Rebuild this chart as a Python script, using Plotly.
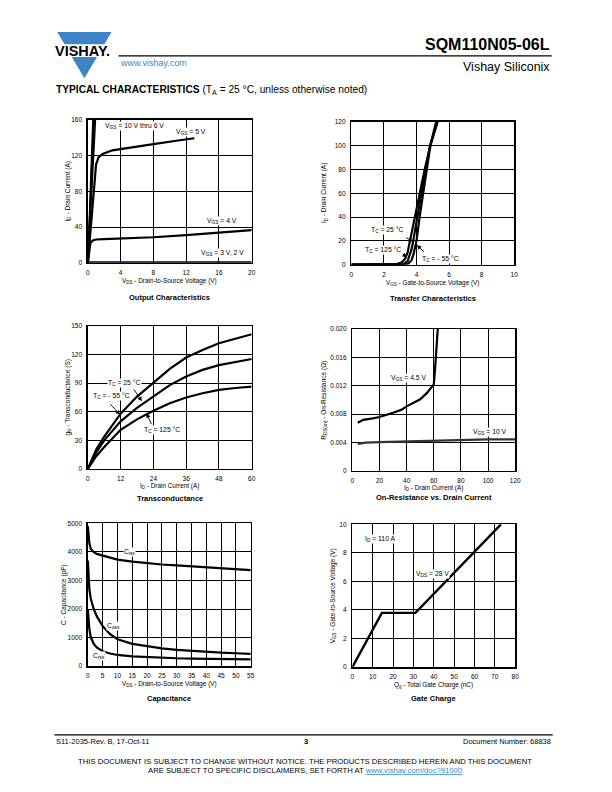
import plotly.graph_objects as go

W, H = 612, 792
FONT = "Liberation Sans, Arial, sans-serif"
BLUE = "#3d85c6"

# ---------------- data ----------------
# Output characteristics (VDS in V, ID in A)
out_10v_vds = [0, 0.62]
out_10v_id = [0, 160]
out_8v_vds = [0, 0.70]
out_8v_id = [0, 160]
out_7v_vds = [0, 0.80]
out_7v_id = [0, 160]
out_6v_vds = [0, 0.92]
out_6v_id = [0, 160]
out_5v_vds = [0, 0.5, 0.8, 1.0, 1.3, 1.8, 3, 5, 8, 11, 13]
out_5v_id = [0, 60, 95, 110, 118, 122, 126, 129, 133, 137, 139.5]
out_4v_vds = [0, 0.15, 0.3, 0.6, 1, 2, 4, 8, 12, 16, 20]
out_4v_id = [0, 15, 22, 25, 26, 26.5, 27, 28.5, 31, 33.5, 36.5]
out_3v_vds = [0, 20]
out_3v_id = [0.4, 0.4]

# Transfer characteristics (VGS in V, ID in A)
tr_125_vgs = [0, 2.4, 2.8, 3.1, 3.3, 3.45, 3.6, 3.9, 4.2, 4.5, 4.85, 5.3]
tr_125_id = [0, 0, 0.5, 2, 5, 10, 20, 40, 60, 80, 100, 120]
tr_25_vgs = [0, 2.8, 3.2, 3.45, 3.6, 3.7, 3.8, 4.03, 4.3, 4.55, 4.83, 5.25]
tr_25_id = [0, 0, 0.5, 3, 8, 13, 20, 40, 60, 80, 100, 120]
tr_m55_vgs = [0, 3.2, 3.5, 3.7, 3.82, 3.92, 4.0, 4.19, 4.4, 4.62, 4.85, 5.2]
tr_m55_id = [0, 0, 1, 4, 9, 14, 20, 40, 60, 80, 100, 120]

# Transconductance (ID in A, gfs in S)
gfs_id = [0, 3, 6, 12, 18, 24, 30, 36, 42, 48, 54, 60]
gfs_m55 = [0, 20, 34, 58, 76, 91, 105, 117, 125, 132, 137, 141.5]
gfs_25 = [0, 17, 30, 50, 64, 76, 88, 97, 104, 109, 112.5, 115.5]
gfs_125 = [0, 13, 23, 41, 52, 61, 69, 75, 79.5, 83, 85, 86.5]

# On-resistance vs drain current (ID in A, RDS(on) in ohm)
rds45_id = [4, 8, 15, 20, 30, 36, 40, 45, 50, 55, 60, 61, 62, 63]
rds45 = [0.0068, 0.0072, 0.0074, 0.0076, 0.0082, 0.0086, 0.0091, 0.0096,
         0.0101, 0.0110, 0.0122, 0.0145, 0.0175, 0.0202]
rds10_id = [4, 10, 20, 40, 60, 80, 100, 120]
rds10 = [0.0038, 0.00398, 0.00405, 0.00415, 0.0043, 0.0044, 0.00443, 0.00443]
rds_ticks = [0, 0.004, 0.008, 0.012, 0.016, 0.020]
rds_ticktext = ["0", "0.004", "0.008", "0.012", "0.016", "0.020"]

# Capacitance (VDS in V, C in pF)
ciss_v = [0, 0.2, 0.5, 1, 2, 3, 5, 7.5, 10, 15, 20, 25, 30, 35, 40, 45, 50, 55]
ciss = [4900, 4600, 4300, 4100, 3990, 3930, 3870, 3790, 3730, 3660, 3600,
        3560, 3530, 3500, 3470, 3440, 3400, 3360]
coss_v = [0, 0.2, 0.5, 1, 1.5, 2, 3, 4, 5, 7.5, 10, 15, 20, 25, 30, 35, 40, 45, 50, 55]
coss = [3700, 3100, 2700, 2350, 2150, 2000, 1750, 1550, 1400, 1120, 940, 780,
        690, 620, 570, 530, 500, 470, 450, 430]
crss_v = [0, 0.2, 0.5, 1, 1.5, 2, 3, 5, 7.5, 10, 15, 20, 25, 30, 35, 40, 45, 50, 55]
crss = [2000, 1600, 1300, 1000, 880, 780, 650, 520, 440, 390, 340, 310, 290,
        275, 265, 255, 245, 240, 235]

# Gate charge (Qg in nC, VGS in V)
qg = [0, 14.5, 31, 73]
vgs_qg = [0, 3.8, 3.8, 10]


# ---------------- helpers ----------------
def fx(x):
    return x / W


def fy(y):
    return 1 - y / H


fig = go.Figure()


def curve(x, y, ref, width=2.2, color="black"):
    fig.add_trace(go.Scatter(x=x, y=y, mode="lines", xaxis="x" + ref, yaxis="y" + ref,
                             line=dict(color=color, width=width), showlegend=False,
                             hoverinfo="skip"))


def axis(px0, px1, rng, anchor, dtick=None, tickvals=None, ticktext=None):
    d = dict(domain=[fx(px0), fx(px1)] if anchor.startswith("y") else [fy(px1), fy(px0)],
             range=rng, anchor=anchor, showgrid=True, gridcolor="black", gridwidth=1,
             showline=True, linecolor="black", linewidth=1.5, mirror=True,
             zeroline=False, ticks="", ticklabelstandoff=3,
             tickfont=dict(family=FONT, size=6.5, color="black"), fixedrange=True)
    if dtick is not None:
        d.update(tick0=rng[0], dtick=dtick)
    if tickvals is not None:
        d.update(tickmode="array", tickvals=tickvals, ticktext=ticktext)
    return d


annotations = []
shapes = []


def ptext(text, x, y, size, xanchor="center", color="black", angle=0):
    annotations.append(dict(text=text, x=fx(x), y=fy(y), xref="paper", yref="paper",
                            xanchor=xanchor, yanchor="middle", showarrow=False,
                            textangle=angle,
                            font=dict(family=FONT, size=size, color=color)))


def note(text, x, y, ref, size=6.8):
    annotations.append(dict(text=text, x=x, y=y, xref="x" + ref, yref="y" + ref,
                            showarrow=False, bgcolor="white", borderpad=0,
                            font=dict(family=FONT, size=size, color="black")))


def arrow(x, y, ax, ay, ref):
    annotations.append(dict(text="", x=x, y=y, ax=ax, ay=ay, xref="x" + ref, yref="y" + ref,
                            axref="x" + ref, ayref="y" + ref, showarrow=True,
                            arrowhead=2, arrowsize=1.0, arrowwidth=0.9, arrowcolor="black"))


# panel pixel boxes: (left, right, top, bottom)
boxes = {
    "": (87, 253, 117, 261),
    "2": (354, 519, 119, 263),
    "3": (87, 253, 325, 469),
    "4": (355, 520, 328, 471),
    "5": (87, 252, 524, 668),
    "6": (355, 520, 525, 669),
}

layout_axes = {}


def panel(ref, xr, yr, xd=None, yd=None, yvals=None, ytext=None):
    l, r, t, b = boxes[ref]
    layout_axes["xaxis" + ref] = axis(l, r, xr, "y" + ref, dtick=xd)
    layout_axes["yaxis" + ref] = axis(t, b, yr, "x" + ref, dtick=yd, tickvals=yvals, ticktext=ytext)


def labels(ref, xtitle, ytitle, title, ytx, xty, tty):
    l, r, t, b = boxes[ref]
    cx = (l + r) / 2
    ptext(xtitle, cx, xty, 6.4)
    ptext(ytitle, ytx, (t + b) / 2, 6.5, angle=-90)
    ptext("<b>" + title + "</b>", cx, tty, 7.5)


# ---- panel 1: output characteristics ----
panel("", [0, 20], [0, 160], xd=4, yd=40)
for xs, ys in [(out_10v_vds, out_10v_id), (out_8v_vds, out_8v_id),
               (out_7v_vds, out_7v_id), (out_6v_vds, out_6v_id)]:
    curve(xs, ys, "", width=1.6)
curve(out_5v_vds, out_5v_id, "")
curve(out_4v_vds, out_4v_id, "")
curve(out_3v_vds, out_3v_id, "")
note("V<sub>GS</sub> = 10 V thru 6 V", 5.7, 153, "")
note("V<sub>GS</sub> = 5 V", 12.6, 146.5, "")
note("V<sub>GS</sub> = 4 V", 16.4, 46.5, "")
note("V<sub>GS</sub> = 3 V, 2 V", 16.4, 11, "")
labels("", "V<sub>DS</sub> - Drain-to-Source Voltage (V)", "I<sub>D</sub> - Drain Current (A)",
       "Output Characteristics", 67, 279.5, 296)

# ---- panel 2: transfer characteristics ----
panel("2", [0, 10], [0, 120], xd=2, yd=20)
curve(tr_125_vgs, tr_125_id, "2")
curve(tr_25_vgs, tr_25_id, "2")
curve(tr_m55_vgs, tr_m55_id, "2")
note("T<sub>C</sub> = 25 °C", 2.24, 29.4, "2")
note("T<sub>C</sub> = 125 °C", 1.97, 12.5, "2")
note("T<sub>C</sub> = - 55 °C", 5.45, 4.8, "2")
arrow(3.78, 19.5, 3.27, 23.5, "2")
arrow(3.42, 6.5, 3.05, 9.6, "2")
arrow(4.02, 16.5, 4.55, 9.6, "2")
labels("2", "V<sub>GS</sub> - Gate-to-Source Voltage (V)", "I<sub>D</sub> - Drain Current (A)",
       "Transfer Characteristics", 327, 281, 297)

# ---- panel 3: transconductance ----
panel("3", [0, 60], [0, 150], xd=12, yd=30)
curve(gfs_id, gfs_m55, "3")
curve(gfs_id, gfs_25, "3")
curve(gfs_id, gfs_125, "3")
note("T<sub>C</sub> = 25 °C", 13.4, 90, "3")
note("T<sub>C</sub> = - 55 °C", 8.6, 77, "3")
note("T<sub>C</sub> = 125 °C", 27, 40.6, "3")
arrow(19.8, 71, 16.5, 85, "3")
arrow(11.8, 57, 7.7, 69.5, "3")
arrow(21.5, 58.5, 23.5, 45.5, "3")
labels("3", "I<sub>D</sub> - Drain Current (A)", "g<sub>fs</sub> - Transconductance (S)",
       "Transconductance", 67, 486, 499)

# ---- panel 4: on-resistance ----
panel("4", [0, 120], [0, 0.020], xd=20, yvals=rds_ticks, ytext=rds_ticktext)
curve(rds45_id, rds45, "4")
curve(rds10_id, rds10, "4", color="#333333")
note("V<sub>GS</sub> = 4.5 V", 41.8, 0.01315, "4")
note("V<sub>GS</sub> = 10 V", 101.5, 0.00545, "4")
labels("4", "I<sub>D</sub> - Drain Current (A)", "R<sub>DS(on)</sub> - On-Resistance (Ω)",
       "On-Resistance vs. Drain Current", 326, 488, 498)

# ---- panel 5: capacitance ----
panel("5", [0, 55], [0, 5000], xd=5, yd=1000)
curve(ciss_v, ciss, "5")
curve(coss_v, coss, "5")
curve(crss_v, crss, "5")
note("C<sub>iss</sub>", 14.2, 3990, "5")
note("C<sub>oss</sub>", 8.8, 1390, "5")
note("C<sub>rss</sub>", 3.8, 350, "5")
labels("5", "V<sub>DS</sub> - Drain-to-Source Voltage (V)", "C - Capacitance (pF)",
       "Capacitance", 63, 686, 701)

# ---- panel 6: gate charge ----
panel("6", [0, 80], [0, 10], xd=10, yd=2)
curve(qg, vgs_qg, "6", width=2.4)
note("I<sub>D</sub> = 110 A", 13.6, 8.96, "6")
note("V<sub>DS</sub> = 28 V", 39.3, 6.5, "6")
labels("6", "Q<sub>g</sub> - Total Gate Charge (nC)", "V<sub>GS</sub> - Gate-to-Source Voltage (V)",
       "Gate Charge", 335, 687, 701)


# ---------------- header ----------------
def path(points):
    return "M " + " L ".join(f"{fx(x)},{fy(y)}" for x, y in points) + " Z"


shapes.append(dict(type="path", xref="paper", yref="paper", line=dict(width=0),
                   fillcolor=BLUE, path=path([(56, 28.3), (111, 28.3), (103.7, 40.7), (63.3, 40.7)])))
shapes.append(dict(type="path", xref="paper", yref="paper", line=dict(width=0),
                   fillcolor=BLUE, path=path([(70.7, 53.5), (96.3, 53.5), (83.5, 75)])))
ptext("<b>VISHAY.</b>", 82, 47.5, 14.5)
shapes.append(dict(type="line", xref="paper", yref="paper", x0=fx(118), x1=fx(557),
                   y0=fy(52.3), y1=fy(52.3), line=dict(color="black", width=1.2)))
ptext("www.vishay.com", 118, 59.5, 9, xanchor="left", color="#2f8ad0")
ptext("<b>SQM110N05-06L</b>", 557, 41, 16, xanchor="right")
ptext("Vishay Siliconix", 557, 63.5, 12.5, xanchor="right")
ptext("<b>TYPICAL CHARACTERISTICS</b> (T<sub>A</sub> = 25 °C, unless otherwise noted)",
      53, 87.5, 10.2, xanchor="left")

# ---------------- footer ----------------
shapes.append(dict(type="line", xref="paper", yref="paper", x0=fx(53), x1=fx(558),
                   y0=fy(737.3), y1=fy(737.3), line=dict(color="black", width=1.2)))
ptext("S11-2035-Rev. B, 17-Oct-11", 53, 744, 7.5, xanchor="left")
ptext("<b>3</b>", 308, 744.5, 7.5)
ptext("Document Number: 68838", 558, 744, 7.5, xanchor="right")
ptext("THIS DOCUMENT IS SUBJECT TO CHANGE WITHOUT NOTICE. THE PRODUCTS DESCRIBED HEREIN AND THIS DOCUMENT",
      307, 764.3, 7.7)
ptext("ARE SUBJECT TO SPECIFIC DISCLAIMERS, SET FORTH AT "
      "<span style='color:#2f8ad0'><u>www.vishay.com/doc?91000</u></span>",
      307, 773.3, 7.7)

fig.update_layout(width=W, height=H, autosize=False,
                  margin=dict(l=0, r=0, t=0, b=0),
                  paper_bgcolor="white", plot_bgcolor="white",
                  font=dict(family=FONT, color="black"),
                  annotations=annotations, shapes=shapes, **layout_axes)

fig.write_html("out.html", config={"displayModeBar": False, "staticPlot": True},
               post_script="document.body.style.margin='0';document.body.style.padding='0';")
